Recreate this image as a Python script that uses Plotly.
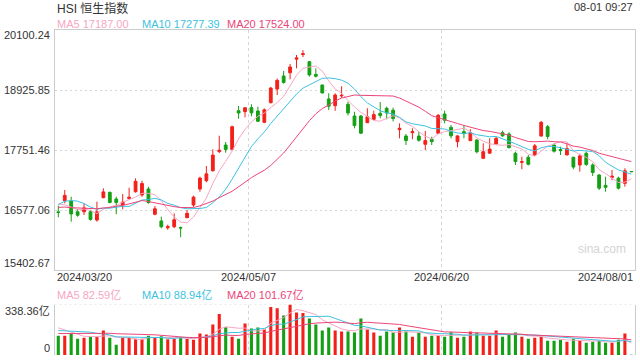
import plotly.graph_objects as go
import pandas as pd

# ---------------- data ----------------
dates = [
    "2024/03/20", "2024/03/21", "2024/03/22", "2024/03/25", "2024/03/26", "2024/03/27", "2024/03/28",
    "2024/04/02", "2024/04/03", "2024/04/05", "2024/04/08", "2024/04/09", "2024/04/10", "2024/04/11", "2024/04/12",
    "2024/04/15", "2024/04/16", "2024/04/17", "2024/04/18", "2024/04/19", "2024/04/22", "2024/04/23", "2024/04/24",
    "2024/04/25", "2024/04/26", "2024/04/29", "2024/04/30",
    "2024/05/02", "2024/05/03", "2024/05/06", "2024/05/07", "2024/05/08", "2024/05/09", "2024/05/10", "2024/05/13",
    "2024/05/14", "2024/05/16", "2024/05/17", "2024/05/20", "2024/05/21", "2024/05/22", "2024/05/23", "2024/05/24",
    "2024/05/27", "2024/05/28", "2024/05/29", "2024/05/30", "2024/05/31",
    "2024/06/03", "2024/06/04", "2024/06/05", "2024/06/06", "2024/06/07", "2024/06/11", "2024/06/12", "2024/06/13",
    "2024/06/14", "2024/06/17", "2024/06/18", "2024/06/19", "2024/06/20", "2024/06/21", "2024/06/24", "2024/06/25",
    "2024/06/26", "2024/06/27", "2024/06/28",
    "2024/07/02", "2024/07/03", "2024/07/04", "2024/07/05", "2024/07/08", "2024/07/09", "2024/07/10", "2024/07/11",
    "2024/07/12", "2024/07/15", "2024/07/16", "2024/07/17", "2024/07/18", "2024/07/19", "2024/07/22", "2024/07/23",
    "2024/07/24", "2024/07/25", "2024/07/26", "2024/07/29", "2024/07/30", "2024/07/31",
    "2024/08/01",
]

# closes of the 19 sessions before the first shown day (needed for the moving averages)
prior_close = [16742.99, 16725.86, 16634.74, 16790.80, 16536.85, 16511.44, 16589.44, 16595.97, 16162.64,
               16438.09, 16229.78, 16353.39, 16587.44, 17093.50, 17082.11, 16961.56, 16720.89, 16737.12,
               16543.07]

open_ = [16540, 16760, 16753, 16543, 16543, 16543, 16381, 16818, 16923, 16792,
         16675, 16800, 16935, 16871, 16988, 16493, 16362, 16230, 16250, 16235,
         16426, 16675, 16988, 17150, 17346, 17720, 17849, 17765, 18520, 18501,
         18580, 18515, 18294, 18677, 18945, 19200, 19264, 19530, 19620, 19480,
         19230, 19024, 18750, 18619, 18810, 18646, 18417, 18417, 18286, 18352,
         18470, 18568, 18530, 18150, 18025, 18090, 18025, 17863, 17960, 18078,
         18456, 18196, 17914, 18110, 17934, 17947, 17589, 17690, 17869, 18090,
         18065, 17687, 17510, 17609, 17654, 18025, 18208, 17849, 17760, 17654,
         17609, 17458, 17687, 17458, 17262, 17060, 17215, 17200, 17099, 17328.00]
high = [16661, 16968, 16837, 16597, 16708, 16580, 16740, 17001, 16935, 16837,
        16890, 17013, 17197, 17150, 17033, 16655, 16446, 16290, 16510, 16250,
        16577, 16857, 17229, 17438, 17765, 18031, 17908, 18230, 18613, 18590,
        18646, 18600, 18565, 18985, 19150, 19298, 19435, 19611, 19705, 19495,
        19350, 19030, 18861, 18861, 19000, 18697, 18500, 18437, 18568, 18521,
        18690, 18600, 18580, 18274, 18065, 18176, 18110, 18123, 18012, 18455,
        18521, 18240, 18040, 18241, 18157, 17960, 17882, 17980, 18012, 18130,
        18100, 17720, 17620, 17654, 17869, 18319, 18241, 17882, 17817, 17882,
        17620, 17680, 17720, 17491, 17282, 17229, 17360, 17229, 17393, 17328.00]
low = [16434, 16708, 16348, 16446, 16479, 16368, 16348, 16808, 16708, 16493,
       16590, 16780, 16916, 16837, 16700, 16475, 16220, 16190, 16220, 16044,
       16420, 16640, 16935, 17119, 17327, 17690, 17699, 17751, 18364, 18391,
       18410, 18300, 18275, 18665, 18828, 19050, 19135, 19350, 19570, 19188,
       19170, 18860, 18534, 18520, 18772, 18430, 18176, 18070, 18280, 18340,
       18370, 18352, 18310, 17980, 17849, 17962, 17915, 17751, 17849, 18065,
       18274, 17980, 17804, 17980, 17930, 17687, 17580, 17680, 17849, 18012,
       17780, 17458, 17374, 17450, 17634, 18012, 17961, 17700, 17654, 17650,
       17374, 17327, 17439, 17242, 16968, 16935, 17160, 16980, 17033, 17327.96]
close = [16529.48, 16863.10, 16499.47, 16473.64, 16618.32, 16392.84, 16541.42, 16931.52, 16725.10, 16723.92,
         16732.85, 16828.07, 17139.17, 17095.03, 16721.69, 16600.46, 16248.97, 16251.84, 16385.87, 16224.14,
         16511.69, 16828.93, 17201.27, 17284.54, 17651.15, 17746.91, 17763.03, 18207.13, 18475.92, 18578.30,
         18479.37, 18313.86, 18537.81, 18963.68, 19115.06, 19073.71, 19376.53, 19553.61, 19636.22, 19220.62,
         19195.60, 18868.71, 18608.94, 18827.35, 18821.16, 18477.01, 18230.19, 18079.61, 18403.04, 18444.11,
         18424.96, 18475.65, 18366.95, 18176.34, 17937.84, 18112.63, 17941.78, 17936.12, 17915.55, 18430.39,
         18335.32, 18028.52, 18027.71, 18072.90, 18089.93, 17716.47, 17718.61, 17769.14, 17978.57, 18028.28,
         17799.61, 17524.06, 17523.23, 17471.67, 17832.33, 18293.38, 18015.94, 17727.98, 17739.41, 17778.41,
         17417.68, 17635.88, 17469.36, 17311.05, 17004.77, 17021.31, 17238.38, 17002.91, 17344.60, 17327.96]

# turnover (亿) ; 19 earlier sessions for the moving averages
prior_volume = [118, 126, 131, 115, 120, 128, 124, 119, 127, 124,
                150, 142, 148, 139, 149, 205, 190, 198, 187]
volume = [129.8, 129.8, 141.1, 109.5, 116.3, 123.1, 123.1, 163.7, 116.3, 68.9,
          116.3, 116.3, 109.5, 109.5, 129.8, 120.8, 125.3, 105.0, 109.5, 118.6,
          109.5, 102.8, 143.4, 136.6, 204.3, 274.2, 186.2, 123.1, 109.5, 211.0,
          177.2, 184.0, 170.4, 321.6, 312.6, 265.2, 338.36, 285.5, 281.0, 244.9,
          204.3, 163.7, 184.0, 163.7, 156.9, 156.9, 150.1, 244.9, 170.4, 150.1,
          129.8, 156.9, 150.1, 184.0, 156.9, 123.1, 150.1, 123.1, 129.8, 129.8,
          123.1, 152.4, 116.3, 123.1, 156.9, 150.1, 129.8, 129.8, 163.7, 123.1,
          136.6, 150.1, 123.1, 109.5, 116.3, 123.1, 96.0, 96.0, 102.8, 89.2,
          109.5, 96.0, 82.5, 89.2, 96.0, 82.5, 82.5, 102.8, 143.4, 1.8]

price_ticks = [15402.67, 16577.06, 17751.46, 18925.85, 20100.24]
price_tick_labels = ["15402.67", "16577.06", "17751.46", "18925.85", "20100.24"]
volume_ticks = [0, 338.36]
volume_tick_labels = ["0", "338.36亿"]
ma_periods = [5, 10, 20]
price_ma_labels = ["MA5 17187.00", "MA10 17277.39", "MA20 17524.00"]
volume_ma_labels = ["MA5 82.59亿", "MA10 88.94亿", "MA20 101.67亿"]
grid_dates = ["2024/05/07", "2024/06/20"]
title_text = "HSI 恒生指数"
time_text = "08-01 09:27"
watermark = "sina.com"

# ---------------- style ----------------
RED = "#f3201a"
GREEN = "#14a014"
MA_COLORS = ["#f7a6c4", "#3cc2e0", "#ec4579"]
FONT = "Liberation Sans, Arial, Noto Sans CJK SC, sans-serif"
TEXT = "#333333"
W, H = 640, 360
PL, PR = 54.5, 635.0          # plot left / right in px
MAIN_TOP, MAIN_BOT = 30.0, 270.0
VOL_TOP, VOL_BOT = 304.5, 355.0

def py(p):
    return 1 - p / H

x = list(range(len(dates)))
cs = pd.Series(prior_close + close)
vs = pd.Series(prior_volume + volume)
price_ma = [cs.rolling(p).mean().iloc[len(prior_close):].tolist() for p in ma_periods]
vol_ma = [vs.rolling(p).mean().iloc[len(prior_volume):].tolist() for p in ma_periods]

vol_colors = []
for i in range(len(close)):
    up = close[i] > open_[i] or (close[i] == open_[i] and i > 0 and close[i] >= close[i - 1])
    vol_colors.append(RED if up else GREEN)

grid_x = [dates.index(d) - 0.43 for d in grid_dates]

fig = go.Figure()

fig.add_trace(go.Candlestick(
    x=x, open=open_, high=high, low=low, close=close,
    increasing=dict(line=dict(color=RED, width=1), fillcolor=RED),
    decreasing=dict(line=dict(color=GREEN, width=1), fillcolor=GREEN),
    whiskerwidth=0, xaxis="x", yaxis="y", hoverinfo="skip",
))
for ma, col in zip(price_ma, MA_COLORS):
    fig.add_trace(go.Scatter(x=x, y=ma, mode="lines", line=dict(color=col, width=1),
                             xaxis="x", yaxis="y", hoverinfo="skip"))

fig.add_trace(go.Bar(x=x, y=volume, marker=dict(color=vol_colors, line=dict(width=0)),
                     width=0.48, xaxis="x2", yaxis="y2", hoverinfo="skip"))
for ma, col in zip(vol_ma, MA_COLORS):
    fig.add_trace(go.Scatter(x=x, y=ma, mode="lines", line=dict(color=col, width=1),
                             xaxis="x2", yaxis="y2", hoverinfo="skip"))

xr = [-0.59, len(dates) - 1 + 0.57]
GRID = "#d6d6d6"
BORDER = "#cccccc"
fig.update_layout(
    width=W, height=H, autosize=False,
    margin=dict(l=0, r=0, t=0, b=0),
    paper_bgcolor="white", plot_bgcolor="white",
    showlegend=False, boxgap=0.38,
    font=dict(family=FONT, size=11, color=TEXT),
    xaxis=dict(domain=[PL / W, PR / W], range=xr, anchor="y",
               tickvals=grid_x, showticklabels=False, ticks="",
               showgrid=True, gridcolor=GRID, griddash="3px,3px", gridwidth=1,
               showline=True, mirror=True, linecolor=BORDER, linewidth=1,
               zeroline=False, rangeslider=dict(visible=False), fixedrange=True),
    yaxis=dict(domain=[py(MAIN_BOT), py(MAIN_TOP)], range=[price_ticks[0], price_ticks[-1]],
               anchor="x", tickvals=price_ticks[1:-1], showticklabels=False, ticks="",
               showgrid=True, gridcolor=GRID, griddash="2px,3px", gridwidth=1,
               showline=True, mirror=True, linecolor=BORDER, linewidth=1, zeroline=False),
    xaxis2=dict(domain=[PL / W, PR / W], range=xr, anchor="y2", matches="x",
                tickvals=grid_x, showticklabels=False, ticks="",
                showgrid=True, gridcolor=GRID, griddash="3px,3px", gridwidth=1,
                showline=False, zeroline=False),
    yaxis2=dict(domain=[py(VOL_BOT), py(VOL_TOP)], range=[volume_ticks[0], volume_ticks[-1]],
                anchor="x2", showticklabels=False, ticks="", showgrid=False,
                showline=True, mirror=True, linecolor=BORDER, linewidth=1, zeroline=False),
)

# dotted top/bottom of volume panel
for v in volume_ticks:
    fig.add_shape(type="line", xref="paper", yref="y2", x0=PL / W, x1=PR / W, y0=v, y1=v,
                  line=dict(color=GRID, width=1, dash="2px,3px"), layer="below")

ann = []
# title, time
ann.append(dict(text=title_text, x=PL / W, y=py(8), xanchor="left", yanchor="middle",
                font=dict(size=12, color=TEXT)))
ann.append(dict(text=time_text, x=PR / W, y=py(7), xanchor="right", yanchor="middle",
                font=dict(size=11, color=TEXT)))
# MA legends
leg_x = [55, 140, 225]
for lx, t, col in zip(leg_x, price_ma_labels, MA_COLORS):
    ann.append(dict(text=t, x=lx / W, y=py(24.5), xanchor="left", yanchor="middle",
                    font=dict(size=11, color=col)))
for lx, t, col in zip(leg_x, volume_ma_labels, MA_COLORS):
    ann.append(dict(text=t, x=lx / W, y=py(295), xanchor="left", yanchor="middle",
                    font=dict(size=11, color=col)))
# price tick labels
for i, (v, t) in enumerate(zip(price_ticks, price_tick_labels)):
    shift = 7 if i == 0 else (-5 if i == len(price_ticks) - 1 else 0)
    ann.append(dict(text=t, x=52 / W, y=v, yref="y", xanchor="right", yanchor="middle",
                    yshift=shift, font=dict(size=11, color=TEXT)))
# volume tick labels
for i, (v, t) in enumerate(zip(volume_ticks, volume_tick_labels)):
    shift = 7 if i == 0 else -6.5
    ann.append(dict(text=t, x=52 / W, y=v, yref="y2", xanchor="right", yanchor="middle",
                    yshift=shift, font=dict(size=11, color=TEXT)))
# date labels
ann.append(dict(text=dates[0], x=PL / W, y=py(277), xanchor="left", yanchor="middle",
                font=dict(size=11, color=TEXT)))
for gx, d in zip(grid_x, grid_dates):
    ann.append(dict(text=d, x=gx, xref="x", y=py(277), xanchor="center", yanchor="middle",
                    font=dict(size=11, color=TEXT)))
ann.append(dict(text=dates[-1], x=PR / W, y=py(277), xanchor="right", yanchor="middle",
                font=dict(size=11, color=TEXT)))
# watermark
ann.append(dict(text=watermark, x=602 / W, y=py(249), xanchor="center", yanchor="middle",
                font=dict(size=12, color="#d4d4d4")))

for a in ann:
    a.setdefault("xref", "paper")
    a.setdefault("yref", "paper")
    a["showarrow"] = False
fig.update_layout(annotations=ann)

fig.write_html(
    "out.html",
    config={"displayModeBar": False, "staticPlot": True},
    post_script="document.body.style.margin='0px';document.body.style.overflow='hidden';",
)
